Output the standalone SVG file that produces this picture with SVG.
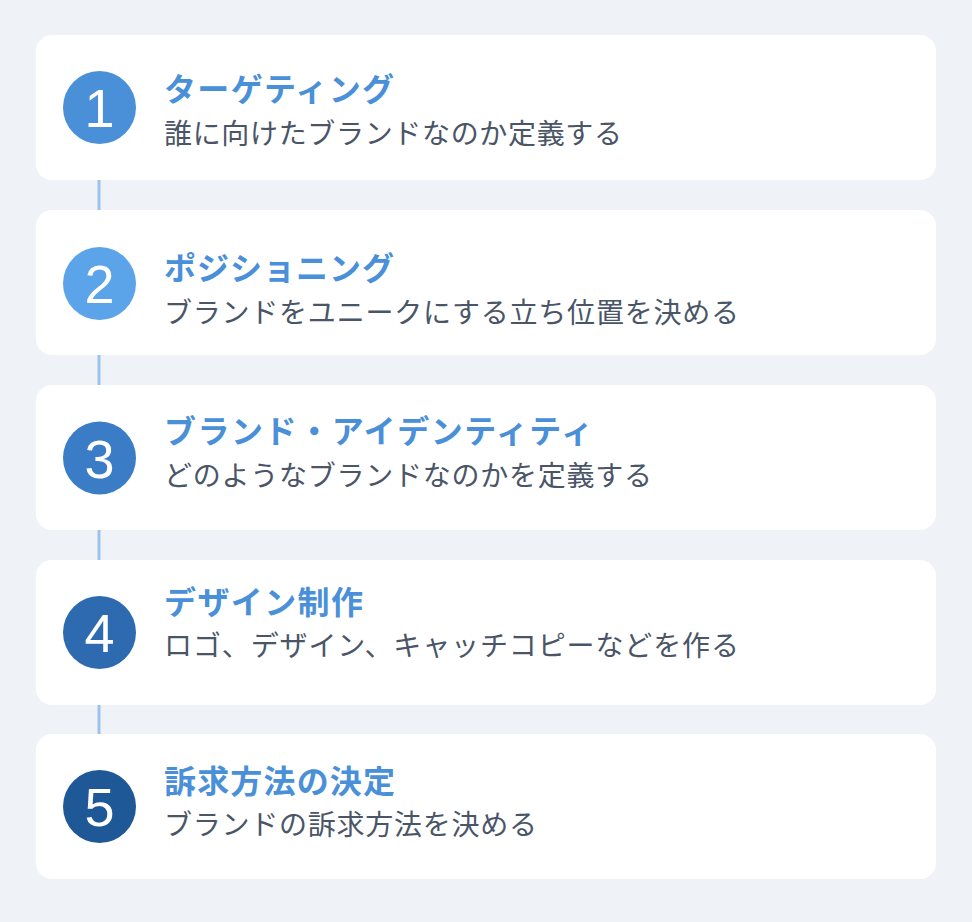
<svg xmlns="http://www.w3.org/2000/svg" width="972" height="922" viewBox="0 0 972 922">
<style>
.card{fill:#ffffff}
.num{fill:#ffffff;font-family:"Liberation Sans","Roboto",sans-serif;font-weight:400;font-size:54px;text-anchor:middle}
.title{fill:#4A90D9;font-family:"Noto Sans CJK JP","Noto Sans CJK SC",sans-serif;font-size:32px;font-weight:700}
.sub{fill:#4A5568;font-family:"Noto Sans CJK JP","Noto Sans CJK SC",sans-serif;font-size:28px;font-weight:400}
.conn{stroke:#9DC3EA;stroke-width:3;fill:none}
</style>
<rect x="0" y="0" width="972" height="922" fill="#EFF3F8"/>
<g id="connectors">
<line class="conn" x1="99" y1="180" x2="99" y2="210"/>
<line class="conn" x1="99" y1="355" x2="99" y2="385"/>
<line class="conn" x1="99" y1="530" x2="99" y2="560"/>
<line class="conn" x1="99" y1="705" x2="99" y2="734"/>
</g>
<g id="step1">
<rect class="card" x="36" y="35" width="900" height="145" rx="16"/>
<circle cx="99.5" cy="107.5" r="36.5" fill="#4A90D9"/>
<text class="num" x="99.5" y="127">1</text>
<text class="title" x="164" y="101" textLength="230">ターゲティング</text>
<text class="sub" x="164" y="144" textLength="458">誰に向けたブランドなのか定義する</text>
</g>
<g id="step2">
<rect class="card" x="36" y="210" width="900" height="145" rx="16"/>
<circle cx="99.5" cy="283.5" r="36.5" fill="#5BA4E9"/>
<text class="num" x="99.5" y="303">2</text>
<text class="title" x="164" y="280" textLength="230">ポジショニング</text>
<text class="sub" x="164" y="323" textLength="575">ブランドをユニークにする立ち位置を決める</text>
</g>
<g id="step3">
<rect class="card" x="36" y="385" width="900" height="145" rx="16"/>
<circle cx="99.5" cy="458" r="36.5" fill="#3B7CC6"/>
<text class="num" x="99.5" y="477.5">3</text>
<text class="title" x="164" y="443" textLength="429">ブランド・アイデンティティ</text>
<text class="sub" x="164" y="486" textLength="488">どのようなブランドなのかを定義する</text>
</g>
<g id="step4">
<rect class="card" x="36" y="560" width="900" height="145" rx="16"/>
<circle cx="99.5" cy="632.5" r="36.5" fill="#2D6AAF"/>
<text class="num" x="99.5" y="652">4</text>
<text class="title" x="164" y="614" textLength="199">デザイン制作</text>
<text class="sub" x="164" y="656" textLength="575">ロゴ、デザイン、キャッチコピーなどを作る</text>
</g>
<g id="step5">
<rect class="card" x="36" y="734" width="900" height="145" rx="16"/>
<circle cx="99.5" cy="806.5" r="36.5" fill="#1F5896"/>
<text class="num" x="99.5" y="826">5</text>
<text class="title" x="164" y="793" textLength="231">訴求方法の決定</text>
<text class="sub" x="164" y="835" textLength="373">ブランドの訴求方法を決める</text>
</g>
</svg>
